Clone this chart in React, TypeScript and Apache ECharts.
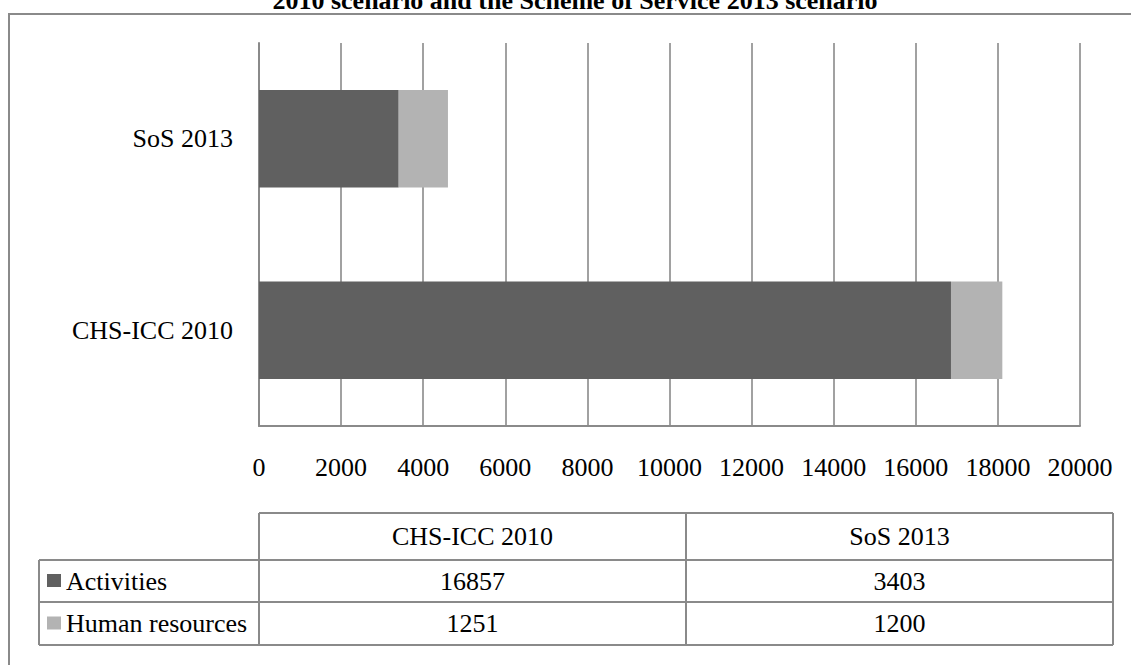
import React, { useEffect, useRef } from "react";
import * as echarts from "echarts";

const categories = ["CHS-ICC 2010", "SoS 2013"];
const seriesNames = ["Activities", "Human resources"];
const activities = [16857, 3403];
const humanResources = [1251, 1200];
const seriesValues = [activities, humanResources];
const seriesColors = ["#606060", "#b3b3b3"];
const titleText = "2010 scenario and the Scheme of Service 2013 scenario";

const FONT = '"Liberation Serif", "Times New Roman", serif';
const LINE = "#8a8a8a";

export default function App() {
  const ref = useRef<HTMLDivElement>(null);
  useEffect(() => {
    if (!ref.current) return;
    const chart = echarts.init(ref.current, undefined, { renderer: "svg" });

    // table geometry
    const tL = 39, c0 = 259, c1 = 686, c2 = 1113;
    const r0 = 513, r1 = 560, r2 = 602, r3 = 645;
    const rowTops = [r1, r2];
    const rowBottoms = [r2, r3];
    const colCenters = [(c0 + c1) / 2, (c1 + c2) / 2];
    const graphics: any[] = [];
    const ln = (x1: number, y1: number, x2: number, y2: number) => ({
      type: "line",
      shape: { x1, y1, x2, y2 },
      style: { stroke: LINE, lineWidth: 2 },
      silent: true,
    });
    // outer border
    graphics.push({
      type: "rect",
      shape: { x: 9, y: 14, width: 1300, height: 800 },
      style: { fill: "none", stroke: LINE, lineWidth: 2 },
      silent: true,
    });
    graphics.push({
      type: "text",
      x: 575,
      y: 13,
      style: {
        text: titleText,
        font: `bold 26px ${FONT}`,
        fill: "#000",
        align: "center",
        verticalAlign: "bottom",
      },
    });
    graphics.push(ln(c0, r0, c2, r0));
    graphics.push(ln(tL, r1, c2, r1));
    graphics.push(ln(tL, r2, c2, r2));
    graphics.push(ln(tL, r3, c2, r3));
    graphics.push(ln(tL, r1, tL, r3));
    graphics.push(ln(c0, r0, c0, r3));
    graphics.push(ln(c1, r0, c1, r3));
    graphics.push(ln(c2, r0, c2, r3));
    categories.forEach((c, i) => {
      graphics.push({
        type: "text",
        x: colCenters[i],
        y: (r0 + r1) / 2,
        style: { text: c, font: `26px ${FONT}`, fill: "#000", align: "center", verticalAlign: "middle" },
      });
    });
    seriesNames.forEach((name, s) => {
      const cy = (rowTops[s] + rowBottoms[s]) / 2;
      graphics.push({
        type: "rect",
        shape: { x: 47, y: cy - 7, width: 14, height: 13 },
        style: { fill: seriesColors[s] },
      });
      graphics.push({
        type: "text",
        x: 66,
        y: cy,
        style: { text: name, font: `26px ${FONT}`, fill: "#000", align: "left", verticalAlign: "middle" },
      });
      seriesValues[s].forEach((v, i) => {
        graphics.push({
          type: "text",
          x: colCenters[i],
          y: cy,
          style: { text: String(v), font: `26px ${FONT}`, fill: "#000", align: "center", verticalAlign: "middle" },
        });
      });
    });

    chart.setOption({
      animation: false,
      grid: { left: 259, right: 51, top: 43, bottom: 239, containLabel: false },
      xAxis: {
        type: "value",
        min: 0,
        max: 20000,
        interval: 2000,
        axisLine: { show: true, lineStyle: { color: LINE, width: 2 } },
        axisTick: { show: false },
        splitLine: { show: true, lineStyle: { color: LINE, width: 1.6 } },
        axisLabel: {
          color: "#000",
          fontFamily: FONT,
          fontSize: 26,
          margin: 28,
          formatter: (v: number) => String(v),
        },
      },
      yAxis: {
        type: "category",
        data: categories,
        axisLine: { show: true, lineStyle: { color: LINE, width: 2 } },
        axisTick: { show: false },
        axisLabel: { color: "#000", fontFamily: FONT, fontSize: 26, margin: 26 },
      },
      series: seriesNames.map((name, s) => ({
        name,
        type: "bar",
        stack: "total",
        data: seriesValues[s],
        barWidth: "51%",
        itemStyle: { color: seriesColors[s] },
      })),
      graphic: graphics,
    });
    return () => chart.dispose();
  }, []);
  return (
    <div
      ref={ref}
      style={{ position: "fixed", left: 0, top: 0, width: 1131, height: 665, background: "#fff" }}
    />
  );
}
